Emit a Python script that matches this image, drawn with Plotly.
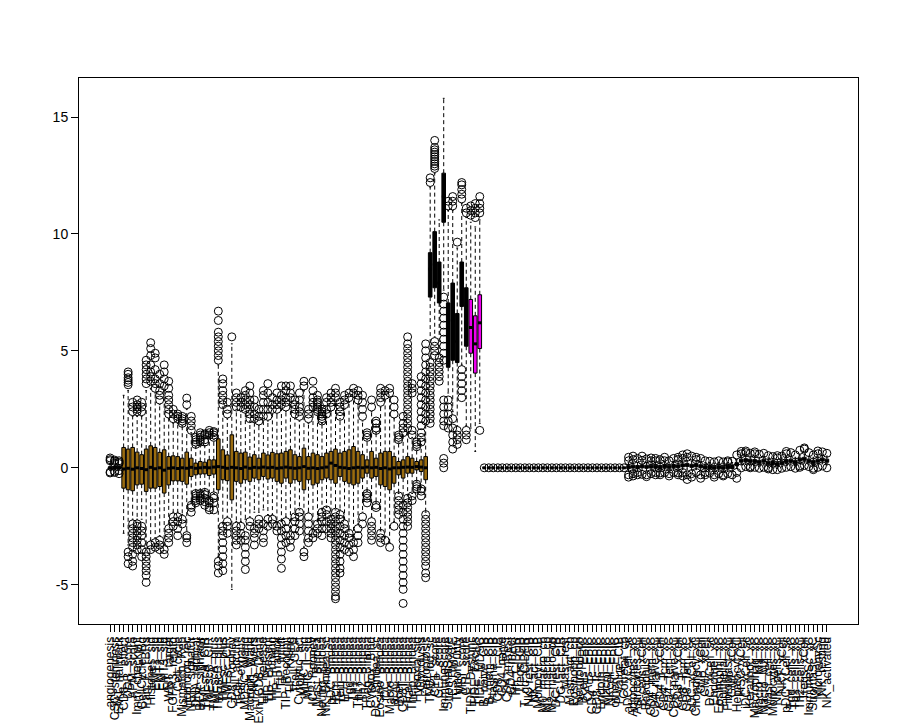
import plotly.graph_objects as go

# ---------------- data ----------------
categories = [
    # signatures
    "angiogenesis", "CSC_stemness", "EMT_hallmark",
    # TME signatures (brown)
    "CD8_T_effect", "DDR_score", "APM_score", "Imm_checkpnt", "CellCycle_Rg",
    "Pan_F_TBRs", "Histones_sig", "EMT1_sig", "EMT2_sig", "EMT3_sig",
    "WNT_target", "FGFR3_relatd", "Cell_cycle", "Mismatch_Rep", "Homolog_rec",
    "NER_signatur", "DNA_replicat", "BER_signatur", "TMEscA_CIR", "TMEscB_CIR",
    "TMEscA_plus", "TMEscB_plus", "TMEsc_plus", "TMEsc_CIR", "CD8_Rooney",
    "Tcell_accum", "Tcell_exhaus", "MDSC_Wang", "Macroph_Wang", "IFNG_Ayers",
    "Exh_CD8_Dana", "TIP_Release", "TIP_Present", "TIP_Priming", "TIP_Traffick",
    "TIP_Infiltr", "TIP_Recognit", "TIP_Killing", "Tcell_GEP", "Cytolytic_act",
    "MHC_I_sig", "MHC_II_sig", "ICP_Rooney", "Mast_Bindea", "Neutro_Bindea",
    "NK_Bindea_sc", "pDC_Bindea", "Tcm_Bindea", "Tem_Bindea", "TFH_Bindea",
    "Tgd_Bindea", "Th1_Bindea", "Th17_Bindea", "Th2_Bindea", "TReg_Bindea",
    "Cytotox_Bind", "DC_Bindea_sc", "Eosino_Bindea", "iDC_Bindea", "Macro_Bindea",
    "aDC_Bindea", "Bcell_Bindea", "CD8T_Bindea", "Tcell_Bindea", "Thelp_Bindea",
    "Hypoxia_sig", "Glycolysis", "Ferroptosis",
    # scores (black)
    "TMB_log_sc", "CYT_score", "GEP_score", "ImmuneScore", "StromalScore",
    "ESTIMATE", "TumorPurity", "MSI_score", "CTL_score",
    # TIDE (magenta)
    "TIDE_Dysfunc", "TIDE_Exclus", "TIDE_MDSC",
    # CIBERSORT / EPIC
    "B_naive_CIB", "B_mem_CIB", "Plasma_CIB", "CD8_T_CIB", "CD4_naive",
    "CD4_mRest", "CD4_mAct", "Tfh_CIBER", "Tregs_CIB", "T_gd_CIBER",
    "NK_rest_CIB", "NK_act_CIB", "Monocyt_CIB", "M0_macro_cb", "M1_macro_cb",
    "M2_macro_cb", "DC_rest_CIB", "DC_act_CIB", "Mast_rest", "Mast_act_cb",
    "Eosinoph_cb", "Neutroph_cb", "Bcells_EPIC", "CAFs_EPIC", "CD4_Tc_EPIC",
    "CD8_Tc_EPIC", "Endoth_EPIC", "Macro_EPIC", "NKcell_EPIC", "otherC_EPIC",
    "P-value_CIB", "Correlat_cb",
    # xCell
    "aDC_xCell_sc", "Adipocytes_xC", "Astrocytes_xC", "B-cells_xCell", "Basophils_xC",
    "CD4_mem_xC", "CD4_naive_xC", "CD4_T_xCell", "CD4_Tcm_xC", "CD4_Tem_xC",
    "CD8_naive_xC", "CD8_T_xCell", "CD8_Tcm_xC", "CD8_Tem_xC", "cDC_xCell_sc",
    "Chondrocy_xC", "CLP_xCell", "CMP_xCell", "DC_xCell_sc", "Endothel_xC",
    "Eosinophil_xC", "Epithelial_xC", "Fibroblast_xC", "GMP_xCell", "Hepatocyt_xC",
    "HSC_xCell", "iDC_xCell_sc", "Keratinoc_xC", "Macrophag_xC", "Macro_M1_xC",
    "Macro_M2_xC", "Mast_cell_xC", "Monocytes_xC", "NK_cells_xC", "NKT_xCell",
    "pDC_xCell_sc", "Tgd_cells_xC", "Th1_cells_xC", "Th2_cells_xC", "Tregs_xCell",
    "ImmuneSc_xC", "StromaSc_xC", "MicroenvSc", "NK_resting", "NK_activated",
]

group_names = ["signature", "tme", "score", "tide", "deconv", "xcell"]
group_sizes = [3, 68, 9, 3, 32, 45]

q1 = [
    -0.03, -0.04, -0.03,
    -0.87, -0.94, -0.98, -0.73, -0.70, -1.01, -0.87, -0.87, -0.80, -1.08,
    -0.73, -0.56, -0.56, -0.58, -0.70, -0.37, -0.30, -0.27, -0.26, -0.33,
    -0.27, -0.94, -0.51, -0.55, -1.37, -0.58, -0.66, -0.51, -0.58, -0.44,
    -0.51, -0.37, -0.48, -0.44, -0.58, -0.66, -0.44, -0.66, -0.51, -0.58,
    -0.94, -0.51, -0.73, -0.66, -0.51, -0.44, -0.51, -0.66, -0.37, -0.58,
    -0.66, -0.73, -0.66, -0.44, -0.23, -0.44, -0.37, -0.73, -0.80, -0.94,
    -0.66, -0.30, -0.44, -0.23, -0.23, -0.09, -0.16, -0.51,
    7.3, 7.7, 7.05, 10.5, 4.3, 4.6, 4.5, 6.9, 5.2,
    4.9, 4.05, 5.1,
    0, 0, 0, 0, 0, 0, 0, 0, 0, 0, 0, 0, 0, 0, 0, 0,
    0, 0, 0, 0, 0, 0, 0, 0, 0, 0, 0, 0, 0, 0, 0, 0,
    -0.04, -0.01, -0.03, 0.0, -0.02, -0.01, -0.01, -0.03, 0.0, -0.02,
    0.01, 0.0, 0.04, 0.06, 0.02, 0.04, 0.0, -0.04, -0.03, -0.06,
    -0.04, -0.06, -0.04, -0.03, 0.09, 0.24, 0.26, 0.24, 0.22, 0.19,
    0.24, 0.16, 0.14, 0.09, 0.16, 0.22, 0.24, 0.19, 0.29, 0.32,
    0.24, 0.19, 0.24, 0.29, 0.24,
]

median = [
    0.0, 0.01, 0.0,
    -0.05, -0.02, -0.06, 0.0, -0.03, -0.08, 0.02, -0.04, 0.0, -0.1,
    -0.02, 0.0, -0.03, 0.0, -0.02, 0.02, -0.02, 0.0, 0.02, 0.0,
    0.03, 0.05, 0.02, -0.02, 0.02, 0.0, -0.03, 0.03, -0.02, 0.02,
    0.0, 0.03, 0.0, 0.02, -0.02, 0.0, 0.03, 0.0, -0.02, 0.0,
    0.05, -0.02, 0.0, -0.03, 0.0, 0.03, 0.2, 0.1, 0.02, 0.0,
    -0.03, 0.0, 0.02, 0.0, 0.03, 0.0, 0.02, -0.03, 0.0, -0.05,
    0.0, 0.0, 0.02, 0.03, 0.02, 0.05, 0.03, 0.0,
    8.5, 8.7, 7.9, 11.6, 5.6, 6.3, 5.4, 7.9, 6.2,
    6.0, 5.3, 6.2,
    0, 0, 0, 0, 0, 0, 0, 0, 0, 0, 0, 0, 0, 0, 0, 0,
    0, 0, 0, 0, 0, 0, 0, 0, 0, 0, 0, 0, 0, 0, 0, 0,
    0.02, 0.05, 0.03, 0.06, 0.04, 0.05, 0.05, 0.03, 0.06, 0.04,
    0.07, 0.06, 0.10, 0.12, 0.08, 0.10, 0.06, 0.02, 0.03, 0.00,
    0.02, 0.00, 0.02, 0.03, 0.15, 0.30, 0.32, 0.30, 0.28, 0.25,
    0.30, 0.22, 0.20, 0.15, 0.22, 0.28, 0.30, 0.25, 0.35, 0.38,
    0.30, 0.25, 0.30, 0.35, 0.30,
]

q3 = [
    0.04, 0.05, 0.04,
    0.87, 0.80, 0.87, 0.67, 0.56, 0.80, 0.94, 0.87, 0.66, 0.77,
    0.48, 0.51, 0.48, 0.41, 0.67, 0.41, 0.20, 0.27, 0.24, 0.34,
    0.34, 1.24, 0.77, 0.55, 1.41, 0.70, 0.63, 0.67, 0.46, 0.56,
    0.41, 0.63, 0.55, 0.66, 0.60, 0.63, 0.70, 0.77, 0.56, 0.48,
    0.84, 0.48, 0.63, 0.56, 0.48, 0.63, 0.70, 0.80, 0.63, 0.70,
    0.77, 0.91, 0.70, 0.56, 0.34, 0.70, 0.41, 0.63, 0.70, 0.70,
    0.48, 0.27, 0.34, 0.48, 0.41, 0.27, 0.34, 0.48,
    9.2, 10.1, 8.8, 12.6, 7.05, 7.9, 6.6, 8.8, 7.7,
    7.2, 6.5, 7.4,
    0, 0, 0, 0, 0, 0, 0, 0, 0, 0, 0, 0, 0, 0, 0, 0,
    0, 0, 0, 0, 0, 0, 0, 0, 0, 0, 0, 0, 0, 0, 0, 0,
    0.09, 0.12, 0.10, 0.13, 0.11, 0.12, 0.12, 0.10, 0.13, 0.11,
    0.14, 0.13, 0.17, 0.19, 0.15, 0.17, 0.13, 0.09, 0.10, 0.07,
    0.09, 0.07, 0.09, 0.10, 0.22, 0.37, 0.39, 0.37, 0.35, 0.32,
    0.37, 0.29, 0.27, 0.22, 0.29, 0.35, 0.37, 0.32, 0.42, 0.45,
    0.37, 0.32, 0.37, 0.42, 0.37,
]

whisker_lo = [
    -0.12, -0.10, -0.10,
    -2.8, -3.3, -2.2, -2.2, -2.2, -3.3, -3.1, -3.0, -2.9, -3.3,
    -2.4, -1.9, -1.9, -2.0, -2.7, -1.5, -1.0, -1.0, -0.98, -1.3,
    -1.1, -3.8, -2.4, -2.1, -5.2, -2.3, -2.3, -2.2, -2.1, -1.9,
    -1.9, -1.8, -2.0, -2.0, -2.3, -2.3, -2.1, -2.7, -2.0, -1.8,
    -3.4, -1.9, -2.6, -2.3, -1.8, -1.7, -2.1, -1.8, -1.8, -2.2,
    -2.7, -3.1, -2.4, -1.9, -1.0, -2.1, -1.5, -2.7, -3.0, -3.2,
    -2.3, -1.1, -1.5, -1.2, -1.1, -0.6, -0.85, -1.9,
    4.7, 5.6, 4.9, 7.6, 3.2, 2.4, 1.8, 4.4, 1.8,
    1.7, 0.7, 1.9,
    0, 0, 0, 0, 0, 0, 0, 0, 0, 0, 0, 0, 0, 0, 0, 0,
    0, 0, 0, 0, 0, 0, 0, 0, 0, 0, 0, 0, 0, 0, 0, 0,
    -0.16, -0.13, -0.15, -0.12, -0.14, -0.13, -0.13, -0.15, -0.12, -0.14,
    -0.11, -0.12, -0.08, -0.06, -0.10, -0.08, -0.12, -0.16, -0.15, -0.18,
    -0.16, -0.18, -0.16, -0.15, -0.03, 0.12, 0.14, 0.12, 0.10, 0.07,
    0.12, 0.04, 0.02, -0.03, 0.04, 0.10, 0.12, 0.07, 0.17, 0.20,
    0.12, 0.07, 0.12, 0.17, 0.12,
]

whisker_hi = [
    0.15, 0.12, 0.14,
    3.1, 3.3, 2.2, 2.2, 2.2, 3.3, 3.4, 3.2, 2.7, 3.3,
    2.1, 1.9, 1.9, 1.8, 2.5, 1.5, 0.9, 1.0, 0.95, 1.3,
    1.2, 4.4, 2.6, 2.1, 5.3, 2.5, 2.4, 2.4, 2.0, 2.0,
    1.8, 2.1, 2.0, 2.3, 2.3, 2.5, 2.4, 2.8, 2.1, 2.0,
    3.3, 1.9, 2.4, 2.3, 1.9, 2.2, 2.4, 2.9, 2.1, 2.5,
    2.8, 3.0, 2.7, 2.0, 1.2, 2.4, 1.5, 2.6, 2.9, 3.0,
    2.1, 1.1, 1.4, 1.5, 1.3, 0.8, 1.0, 1.9,
    12.0, 12.6, 10.6, 15.8, 11.0, 11.0, 9.4, 11.3, 10.7,
    10.5, 10.3, 10.6,
    0, 0, 0, 0, 0, 0, 0, 0, 0, 0, 0, 0, 0, 0, 0, 0,
    0, 0, 0, 0, 0, 0, 0, 0, 0, 0, 0, 0, 0, 0, 0, 0,
    0.22, 0.25, 0.23, 0.26, 0.24, 0.25, 0.25, 0.23, 0.26, 0.24,
    0.27, 0.26, 0.30, 0.32, 0.28, 0.30, 0.26, 0.22, 0.23, 0.20,
    0.22, 0.20, 0.22, 0.23, 0.35, 0.50, 0.52, 0.50, 0.48, 0.45,
    0.50, 0.42, 0.40, 0.35, 0.42, 0.48, 0.50, 0.45, 0.55, 0.58,
    0.50, 0.45, 0.50, 0.55, 0.50,
]

outliers = [
    [0.35, 0.42, 0.30, -0.18, -0.22], [0.28, 0.33, 0.20, -0.20, -0.15], [0.24, 0.30, 0.18, -0.12, -0.25],
    [],
    [3.55, 3.65, 3.75, 3.85, 4.0, 4.1, -3.6, -3.8, -4.1],
    [2.4, 2.6, 2.8, -2.4, -2.6, -2.8, -3.0, -3.2, -3.4, -3.7, -4.0, -4.2],
    [2.4, 2.5, 2.6, 2.7, 2.9, -2.4, -2.5, -2.7, -2.9, -3.1, -3.3, -3.5],
    [2.4, 2.6, 2.8, -2.5, -2.7, -2.9, -3.2, -3.5, -3.8],
    [3.6, 3.8, 4.0, 4.2, 4.4, 4.6, -3.6, -3.8, -4.0, -4.2, -4.4, -4.6, -4.9],
    [3.7, 3.9, 4.1, 4.4, 4.8, 5.1, 5.35, -3.3, -3.5],
    [3.4, 3.6, 3.8, 4.2, 4.7, 4.9, -3.2, -3.4],
    [2.9, 3.1, 3.3, 3.6, 4.0, -3.1, -3.3, -3.5],
    [3.5, 3.8, 4.1, 4.4, -3.5, -3.7],
    [2.3, 2.5, 2.7, 2.9, 3.1, 3.4, 3.7, -2.6, -2.8, -3.0, -3.2],
    [2.1, 2.3, 2.5, -2.1, -2.3, -2.5],
    [2.1, 2.2, 2.3, -2.1, -2.3, -2.6, -2.9],
    [1.9, 2.0, 2.1, 2.2, -2.2, -2.4],
    [2.98, 2.7, -2.9, -3.0, -3.2],
    [1.6, 1.8, 2.0, 2.2, -1.6, -1.7, -1.9],
    [1.0, 1.1, 1.2, 1.3, -1.1, -1.2, -1.3, -1.4, -1.5],
    [1.1, 1.2, 1.3, 1.4, 1.5, -1.1, -1.2, -1.3, -1.4],
    [1.1, 1.2, 1.4, 1.45, -1.05, -1.15, -1.3, -1.45, -1.6],
    [1.4, 1.5, 1.6, -1.4, -1.5, -1.7, -1.8],
    [1.3, 1.4, 1.5, 1.55, -1.2, -1.3, -1.5, -1.8],
    [4.6, 4.8, 5.0, 5.2, 5.4, 5.6, 5.8, 6.3, 6.7, -4.0, -4.2, -4.5],
    [2.7, 2.9, 3.1, 3.3, 3.6, 3.8, -2.5, -2.7, -2.9, -3.2, -3.5, -3.8, -4.1, -4.4],
    [2.3, 2.5, 2.8, -2.3, -2.5, -2.8],
    [5.6],
    [2.6, 2.8, 3.0, 3.2, -2.5, -2.7, -2.9, -3.1, -3.3],
    [2.6, 2.8, 3.0, -2.5, -2.8, -3.1],
    [2.5, 2.7, 2.9, 3.1, 3.3, -2.9, -3.1, -3.4, -3.7, -4.0, -4.35],
    [2.1, 2.3, 2.5, 2.7, 2.9, 3.2, 3.5, -2.3, -2.5],
    [2.1, 2.3, 2.6, 2.9, -2.6, -2.8, -3.0, -3.3],
    [2.0, 2.2, 2.5, -2.2, -2.4, -2.6],
    [2.2, 2.5, 2.8, 3.1, 3.3, -2.4, -2.7, -3.0, -3.2],
    [2.2, 2.5, 2.8, 3.2, 3.6, -2.2, -2.5],
    [2.5, 2.7, 3.0, -2.2, -2.4],
    [2.5, 2.7, 2.9, 3.2, -2.5, -2.7],
    [2.7, 2.9, 3.1, 3.5, -2.4, -2.7, -3.0, -3.3, -3.6, -3.9, -4.3],
    [2.6, 2.8, 3.0, 3.3, 3.5, -2.3, -2.6, -2.9, -3.2],
    [3.0, 3.2, 3.5, -2.9, -3.1, -3.4],
    [2.3, 2.5, 2.7, 2.9, -2.1, -2.3, -2.6, -2.9],
    [2.2, 2.4, 2.6, 2.9, 3.2, -1.9, -2.1, -2.4, -2.7],
    [3.5, 3.7, -3.6, -3.8],
    [2.1, 2.3, 2.5, -2.1, -2.4, -2.7, -3.0, -3.2],
    [2.6, 2.8, 3.0, 3.3, 3.7, -2.8, -3.0],
    [2.4, 2.5, 2.6, 2.7, 2.8, 2.9, 3.1, -2.4, -2.6, -2.8],
    [2.0, 2.1, 2.2, 2.3, 2.4, 2.5, -1.9, -2.1, -2.3, -2.6, -2.9],
    [2.3, 2.5, 2.8, 3.0, -1.8, -2.0, -2.3, -2.6],
    [2.6, 2.8, 3.0, 3.2, -2.2, -2.4, -2.6, -2.8, -3.0],
    [3.0, 3.2, 3.4, -1.9, -2.1, -2.3, -2.5, -2.7, -2.9, -3.1, -3.3, -3.5, -3.7,
     -3.9, -4.1, -4.3, -4.5, -4.7, -4.9, -5.1, -5.3, -5.5, -5.6],
    [2.2, 2.4, 2.6, 2.8, -2.0, -2.2, -2.5, -2.8, -3.1, -3.4, -3.7, -4.0, -4.3, -4.5],
    [2.7, 2.9, 3.1, -2.4, -2.6, -2.9, -3.2, -3.5],
    [3.0, 3.2, -2.8, -3.0, -3.3, -3.6],
    [3.2, 3.4, -3.2, -3.5, -3.8],
    [2.9, 3.1, 3.3, -2.6, -2.9, -3.2],
    [2.2, 2.5, 2.8, 3.1, -2.1, -2.4],
    [1.3, 1.4, 1.5, -1.1, -1.2, -1.3, -1.5],
    [2.6, 2.9, -2.3, -2.5, -2.7, -2.9, -3.1],
    [1.6, 1.7, 1.9, 2.0, -1.6, -1.7],
    [2.8, 3.0, 3.2, 3.4, -2.8, -3.0, -3.2],
    [3.1, 3.3, -3.1],
    [3.2, 3.4, -3.4],
    [2.3, 2.6, 2.9, -2.5],
    [1.2, 1.3, 1.4, -1.2, -1.4, -1.6, -1.8, -2.0],
    [1.5, 1.7, 1.9, 2.2, -1.6, -1.9, -2.2, -2.5, -2.8, -3.1, -3.4, -3.7, -4.0, -4.3,
     -4.6, -4.9, -5.2, -5.8],
    [1.7, 1.9, 2.1, 2.3, 2.5, 2.7, 2.9, 3.1, 3.3, 3.5, 3.7, 3.9, 4.1, 4.3, 4.5, 4.7,
     4.9, 5.1, 5.3, 5.6, -1.3, -1.5, -1.7, -1.9, -2.1, -2.3, -2.5],
    [1.4, 1.6, 3.2, 3.4, 3.6, -1.2, -1.4],
    [0.9, 1.0, 1.1, -0.7, -0.8, -0.9],
    [1.1, 1.3, 1.5, 1.8, 2.1, 2.4, 2.7, 3.0, 3.3, 3.6, 3.9, -0.9, -1.0, -1.2],
    [2.0, 2.3, 2.6, 2.9, 3.2, 3.5, 3.8, 4.1, 4.4, 4.7, 5.0, 5.3, -2.0, -2.2, -2.4,
     -2.6, -2.8, -3.0, -3.2, -3.4, -3.6, -3.8, -4.0, -4.2, -4.5, -4.7],
    # scores
    [12.2, 12.4, 4.5, 4.3, 4.1, 3.9, 3.7, 3.5, 3.3, 3.1, 2.9, 2.7, 2.5, 2.3, 2.1, 1.9],
    [12.8, 12.9, 13.0, 13.1, 13.2, 13.3, 13.4, 13.5, 13.6, 13.7, 14.0, 5.4, 5.2, 5.0, 4.8],
    [4.7, 4.5, 4.3, 4.1, 3.9, 3.7],
    [7.3, 7.0, 6.7, 6.4, 6.1, 5.8, 5.5, 5.2, 4.9, 4.6, 2.9, 2.6, 2.3, 2.0, 1.8, 0.4, 0.2, 0.0],
    [11.2, 11.4, 2.9, 2.6, 2.3, 2.0, 1.7],
    [11.2, 11.4, 11.6, 2.1, 1.7, 1.4, 1.1, 0.8],
    [9.65, 1.6, 1.4, 1.2, 1.0],
    [11.5, 11.7, 11.9, 12.1, 12.2, 4.2, 3.9, 3.6, 3.3, 3.0],
    [10.9, 11.1, 1.6, 1.4, 1.2],
    # TIDE
    [10.8, 11.0, 11.2],
    [10.7, 10.9, 11.1, 11.3],
    [10.9, 11.1, 11.3, 11.6, 1.6],
    # CIBERSORT / EPIC
    [0.0], [0.0], [0.0], [0.0], [0.0], [0.0], [0.0], [0.0], [0.0], [0.0], [0.0], [0.0],
    [0.0], [0.0], [0.0], [0.0], [0.0], [0.0], [0.0], [0.0], [0.0], [0.0], [0.0], [0.0],
    [0.0], [0.0], [0.0], [0.0], [0.0], [0.0], [0.0], [0.0],
    # xCell
    [0.45, 0.30, -0.30, -0.40], [0.50, 0.35, -0.25, -0.35], [0.40, -0.30, -0.20],
    [0.50, 0.32, -0.28], [0.38, -0.30, -0.38], [0.42, 0.30, -0.25],
    [0.40, 0.30, -0.20, -0.30], [0.35, -0.22, -0.30], [0.45, 0.30, -0.20],
    [0.30, -0.25, -0.35], [0.40, -0.20], [0.35, 0.45, -0.22, -0.30],
    [0.55, 0.40, -0.20, -0.35], [0.60, 0.45, -0.30, -0.50], [0.50, -0.25, -0.40],
    [0.45, 0.35, -0.20], [0.40, -0.30, -0.45], [0.30, -0.20, -0.30],
    [0.28, -0.22], [0.25, -0.30, -0.40], [0.30, -0.25],
    [0.25, -0.35, -0.30], [0.30, 0.25, -0.25], [0.28, -0.30],
    [0.55, -0.20, -0.45], [0.70, 0.60, 0.00], [0.65, 0.72, 0.05],
    [0.62, 0.00, 0.05], [0.60, 0.68, 0.02], [0.58, -0.02],
    [0.62, 0.02], [0.52, -0.05, 0.00], [0.48, -0.08],
    [0.42, 0.52, -0.08], [0.50, -0.02], [0.60, 0.70, 0.02],
    [0.65, 0.05], [0.55, -0.02], [0.75, 0.08, 0.02],
    [0.80, 0.85, 0.10], [0.65, 0.05], [0.55, -0.02, -0.08],
    [0.72, 0.60, 0.02], [0.68, 0.08], [0.62, 0.00],
]

y_ticks = [-5, 0, 5, 10, 15]

# ---------------- styling ----------------
group_fill = {
    "signature": "white",
    "tme": "#9A6C10",
    "score": "black",
    "tide": "#EE00EE",
    "deconv": "white",
    "xcell": "white",
}

n = len(categories)
positions = list(range(1, n + 1))
groups = []
for g, s in zip(group_names, group_sizes):
    groups += [g] * s

FONT = "Liberation Sans, Arial, Helvetica, sans-serif"
fig = go.Figure()

# boxes (drawn first so the scatter layer sits on top)
for g in group_names:
    idx = [k for k in range(n) if groups[k] == g]
    fig.add_trace(go.Box(
        x=[positions[k] for k in idx],
        q1=[q1[k] for k in idx],
        median=[median[k] for k in idx],
        q3=[q3[k] for k in idx],
        lowerfence=[q1[k] for k in idx],
        upperfence=[q3[k] for k in idx],
        fillcolor=group_fill[g],
        line=dict(color="black", width=1),
        width=0.8,
        whiskerwidth=0,
        boxpoints=False,
        showlegend=False,
        hoverinfo="skip",
    ))

# dashed whiskers and staples
wx, wy = [], []
cx, cy = [], []
for p, a, b, lo, hi in zip(positions, q1, q3, whisker_lo, whisker_hi):
    if hi > b:
        wx += [p, p, None]
        wy += [b, hi, None]
    if lo < a:
        wx += [p, p, None]
        wy += [a, lo, None]
    cx += [p - 0.2, p + 0.2, None, p - 0.2, p + 0.2, None]
    cy += [hi, hi, None, lo, lo, None]

fig.add_trace(go.Scatter(x=wx, y=wy, mode="lines",
                         line=dict(color="black", width=1, dash="4px,3px"),
                         showlegend=False, hoverinfo="skip"))
fig.add_trace(go.Scatter(x=cx, y=cy, mode="lines",
                         line=dict(color="black", width=1),
                         showlegend=False, hoverinfo="skip"))

# thick medians
mx, my = [], []
for p, m in zip(positions, median):
    mx += [p - 0.4, p + 0.4, None]
    my += [m, m, None]
fig.add_trace(go.Scatter(x=mx, y=my, mode="lines",
                         line=dict(color="black", width=3),
                         showlegend=False, hoverinfo="skip"))

# outliers
ox, oy = [], []
for p, vals in zip(positions, outliers):
    for v in vals:
        ox.append(p)
        oy.append(v)
fig.add_trace(go.Scatter(x=ox, y=oy, mode="markers",
                         marker=dict(symbol="circle-open", size=8, color="black",
                                     line=dict(width=1, color="black")),
                         showlegend=False, hoverinfo="skip"))

ext = 0.04 * n
fig.update_layout(
    width=900, height=723,
    margin=dict(l=79, r=42, t=78, b=99),
    paper_bgcolor="white", plot_bgcolor="white",
    boxmode="overlay",
    font=dict(family=FONT, color="black", size=13),
    xaxis=dict(
        range=[0.5 - ext, n + 0.5 + ext],
        tickmode="array", tickvals=positions, ticktext=categories,
        tickangle=-90, ticks="outside", ticklen=7, tickcolor="black", tickwidth=1,
        showline=True, mirror=True, linecolor="black", linewidth=1,
        showgrid=False, zeroline=False, automargin=False,
        tickfont=dict(family=FONT, size=12, color="black"),
    ),
    yaxis=dict(
        range=[-6.68, 16.67],
        tickmode="array", tickvals=y_ticks, ticktext=[str(t) for t in y_ticks],
        ticks="outside", ticklen=7, tickcolor="black", tickwidth=1,
        showline=True, mirror=True, linecolor="black", linewidth=1,
        showgrid=False, zeroline=False, automargin=False,
        tickfont=dict(family=FONT, size=14, color="black"),
    ),
)

fig.write_html("out.html")
